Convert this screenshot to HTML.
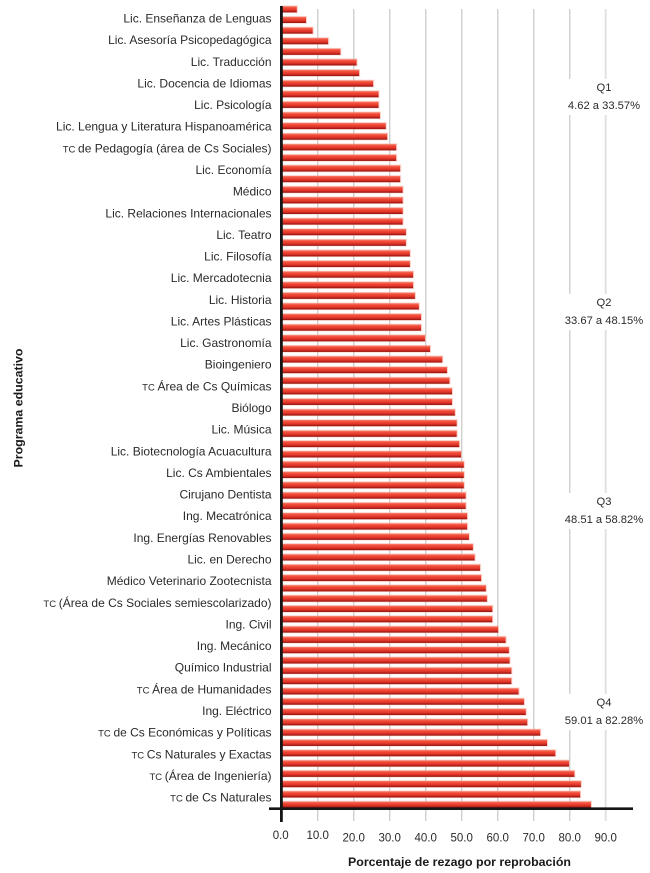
<!DOCTYPE html>
<html lang="es">
<head>
<meta charset="utf-8">
<title>Porcentaje de rezago por reprobación</title>
<style>
html,body{margin:0;padding:0;background:#fff;}
svg{display:block;}
text{font-family:"Liberation Sans",sans-serif;}
</style>
</head>
<body>
<svg id="chart" xmlns="http://www.w3.org/2000/svg" width="650" height="873" viewBox="0 0 650 873">
<defs>
<linearGradient id="barFill" x1="0" y1="0" x2="0" y2="1">
<stop offset="0" stop-color="#f77f6c"/>
<stop offset="0.3" stop-color="#f14a36"/>
<stop offset="0.62" stop-color="#e2352a"/>
<stop offset="1" stop-color="#8f120c"/>
</linearGradient>
</defs>
<g id="grid"></g>
<g id="bars"></g>
<g id="breaks"></g>
<g id="axes"></g>
<g id="xticks"></g>
<g id="ylabels"></g>
<g id="quartiles"></g>
<text transform="translate(22.5,408) rotate(-90)" text-anchor="middle" font-size="12" font-weight="bold" fill="#1a1a1a" textLength="119" lengthAdjust="spacingAndGlyphs">Programa educativo</text>
<text x="459.5" y="866" text-anchor="middle" font-size="12" font-weight="bold" fill="#1a1a1a" textLength="223" lengthAdjust="spacingAndGlyphs">Porcentaje de rezago por reprobación</text>
</svg>
<script>
const categories = [
"Lic. Enseñanza de Lenguas","Lic. Asesoría Psicopedagógica","Lic. Traducción","Lic. Docencia de Idiomas",
"Lic. Psicología","Lic. Lengua y Literatura Hispanoamérica","tc de Pedagogía (área de Cs Sociales)","Lic. Economía",
"Médico","Lic. Relaciones Internacionales","Lic. Teatro","Lic. Filosofía","Lic. Mercadotecnia","Lic. Historia",
"Lic. Artes Plásticas","Lic. Gastronomía","Bioingeniero","tc Área de Cs Químicas","Biólogo","Lic. Música",
"Lic. Biotecnología Acuacultura","Lic. Cs Ambientales","Cirujano Dentista","Ing. Mecatrónica","Ing. Energías Renovables",
"Lic. en Derecho","Médico Veterinario Zootecnista","tc (Área de Cs Sociales semiescolarizado)","Ing. Civil","Ing. Mecánico",
"Químico Industrial","tc Área de Humanidades","Ing. Eléctrico","tc de Cs Económicas y Políticas","tc Cs Naturales y Exactas",
"tc (Área de Ingeniería)","tc de Cs Naturales"
];
const values = [
4.2,6.75,8.6,12.9,16.3,20.8,21.5,25.4,26.9,26.9,
27.3,28.9,29.3,31.8,31.8,32.9,32.9,33.6,33.6,33.6,
33.6,34.5,34.5,35.6,35.6,36.5,36.5,37.0,38.1,38.7,38.7,
39.8,41.2,44.6,45.9,46.6,47.3,47.3,48.1,48.6,48.6,
49.3,49.8,50.6,50.6,50.6,51.1,51.1,51.5,51.5,52.0,53.1,
53.6,55.1,55.4,56.7,57.0,58.5,58.5,60.1,62.2,63.1,63.3,63.8,
63.8,65.8,67.3,67.8,68.2,71.8,73.7,76.0,79.8,81.3,83.1,82.9,85.9
];
const xTicks = [0,10,20,30,40,50,60,70,80,90];
const quartileNames = ["Q1","Q2","Q3","Q4"];
const quartileRanges = ["4.62 a 33.57%","33.67 a 48.15%","48.51 a 58.82%","59.01 a 82.28%"];

const NS = "http://www.w3.org/2000/svg";
function xScale(v){ return 281.7 + 3.6 * v; }
function barY(i){ return i <= 40 ? 9.3 + 10.61 * i : 433.7 + 10.305 * (i - 40); }
function labelY(i){ return 18.3 + 21.64 * i; }
function quartileY(i){ return [87, 302, 501, 702][i]; }
function make(tag, attrs, parent){
  const el = document.createElementNS(NS, tag);
  for (const k in attrs) el.setAttribute(k, attrs[k]);
  parent.appendChild(el);
  return el;
}
const gridG = document.getElementById("grid");
const barsG = document.getElementById("bars");
const breaksG = document.getElementById("breaks");
const axesG = document.getElementById("axes");
const xticksG = document.getElementById("xticks");
const ylabelsG = document.getElementById("ylabels");
const quartilesG = document.getElementById("quartiles");

xTicks.forEach(function(t){
  if (t === 0) return;
  const line = make("line", {x1:xScale(t), x2:xScale(t), y1:9, y2:821, stroke:t === 90 ? "#dedede" : "#cfcfcf", "stroke-width":t === 90 ? 1.8 : 1.4}, gridG);
  
  
});

values.forEach(function(v, i){
  const y = barY(i);
  const halo = make("rect", {x:xScale(0), y:y - 3.9, width:xScale(v) - xScale(0) + 1, height:7.6, fill:"#f7a598", opacity:0.5}, barsG);
  
  
  const bar = make("rect", {x:xScale(0), y:y - 3.1, width:xScale(v) - xScale(0), height:6.2, fill:"url(#barFill)"}, barsG);
  
  
});

quartileNames.forEach(function(q, i){
  const qy = quartileY(i);
  const bg = make("rect", {x:560, y:qy - 8, width:90, height:36, fill:"#fff"}, breaksG);
  
  
  const name = make("text", {x:604, y:qy + 4, "text-anchor":"middle", "font-size":11.2, fill:"#2a2a2a"}, quartilesG);
  name.textContent = q;
  
  
  const range = make("text", {x:604, y:qy + 22, "text-anchor":"middle", "font-size":11.2, fill:"#2a2a2a"}, quartilesG);
  range.textContent = quartileRanges[i];
  
  
});

const yAxis = make("line", {x1:281.4, x2:281.4, y1:6, y2:822, stroke:"#151515", "stroke-width":2.8}, axesG);


const xAxis = make("line", {x1:269, x2:633, y1:808.7, y2:808.7, stroke:"#151515", "stroke-width":2.6}, axesG);



xTicks.forEach(function(t){
  const lbl = make("text", {x:xScale(t) - (t === 0 ? 1 : 0), y:t < 20 ? 839 : 841.5, "text-anchor":"middle", "font-size":11.5, fill:"#2a2a2a"}, xticksG);
  lbl.textContent = t.toFixed(1);
  
  
});

categories.forEach(function(c, i){
  const lbl = make("text", {x:271.5, y:labelY(i) + 4.2, "text-anchor":"end", "font-size":12, fill:"#2a2a2a"}, ylabelsG);
  if (c.indexOf("tc ") === 0) {
    const pre = make("tspan", {"font-size":9.5}, lbl);
    pre.textContent = "TC ";
    
    
    lbl.appendChild(document.createTextNode(c.slice(3)));
  } else {
    lbl.textContent = c;
  }
  
  
});
</script>
</body>
</html>
